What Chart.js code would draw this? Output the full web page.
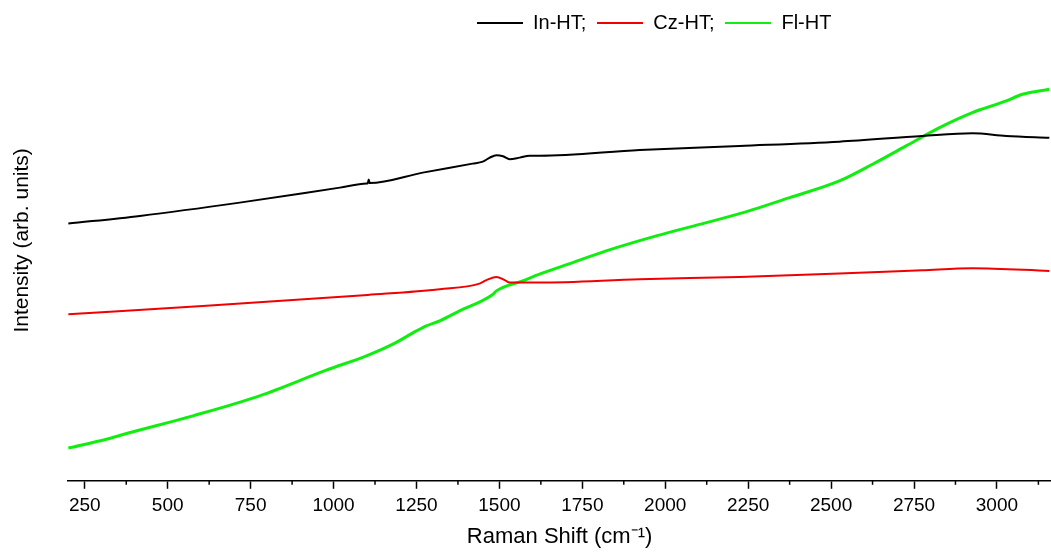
<!DOCTYPE html>
<html>
<head>
<meta charset="utf-8">
<script src="https://cdn.jsdelivr.net/npm/chart.js@4/dist/chart.umd.min.js"></script>
<style>
  body { margin: 0; background: #fff; }
  #wrap { position: relative; width: 1051px; height: 552px; }
  #legend { position: absolute; left: 477px; top: 11px; display: flex; align-items: center;
    font-family: "Liberation Sans", Arial, sans-serif; font-size: 20px; color: #000; }
  #legend .ln { display: inline-block; width: 46px; height: 2px; margin-right: 10px; }
  #legend .tx { margin-right: 11px; }
</style>
</head>
<body>
<div id="wrap">
  <canvas id="myChart"></canvas>
  <div id="legend"></div>
</div>
<script>
// series data (x = Raman shift, y = intensity, arbitrary units)
var in_ht_x = [200, 416, 717, 1019, 1100, 1103, 1106, 1109, 1269, 1419, 1450, 1471, 1491, 1511, 1531, 1561, 1591, 1621, 1923, 2224, 2525, 2775, 2926, 3028, 3158];
var in_ht_y = [257.3, 265, 278.3, 293.3, 297.3, 297.5, 301.5, 297.8, 308.3, 317.3, 319.3, 323.3, 325.7, 324.7, 321.7, 323.3, 325.3, 325.3, 331, 335, 339.3, 345, 347.7, 345, 343.3];

var cz_ht_x = [200, 617, 1103, 1320, 1440, 1461, 1491, 1516, 1531, 1621, 1923, 2224, 2525, 2775, 2926, 3158];
var cz_ht_y = [166.7, 175, 186, 191.7, 197.3, 200.7, 204, 200.7, 198.3, 198.3, 201.7, 204, 207.3, 210.7, 212.7, 210];

var fl_ht_x = [200, 315, 376, 576, 777, 978, 1099, 1179, 1250, 1280, 1320, 1380, 1481, 1491, 1570, 1621, 1721, 1822, 1973, 2124, 2224, 2375, 2525, 2625, 2726, 2827, 2926, 3028, 3077, 3158];
var fl_ht_y = [32.7, 41.5, 47.3, 65, 85, 110.7, 125, 136.7, 150, 155, 160, 170, 186.7, 190, 200, 206.7, 218.3, 230, 245, 258.3, 267.3, 283.3, 300, 316.7, 335, 353.3, 368.3, 380, 386.7, 391.7];

var labels = ['In-HT;', 'Cz-HT;', 'Fl-HT'];
var colors = ['#000000', '#f00000', '#10ee10'];

function pts(xs, ys) {
  return xs.map(function(x, i) { return {x: x, y: ys[i]}; });
}

var dataset = [
  {label: labels[0], data: pts(in_ht_x, in_ht_y), borderColor: colors[0], borderWidth: 2},
  {label: labels[1], data: pts(cz_ht_x, cz_ht_y), borderColor: colors[1], borderWidth: 2},
  {label: labels[2], data: pts(fl_ht_x, fl_ht_y), borderColor: colors[2], borderWidth: 3}
];

// legend as html
var lg = document.getElementById('legend');
labels.forEach(function(l, i) {
  lg.innerHTML += '<span class="ln" style="background:' + colors[i] + '"></span><span class="tx">' + l + '</span>';
});

// short minor ticks
var minorTicks = {
  id: 'minorTicks',
  afterDraw: function(chart) {
    var sc = chart.scales.x, c = chart.ctx, y0 = sc.top;
    c.save();
    c.strokeStyle = '#000';
    c.lineWidth = 1.5;
    sc.ticks.forEach(function(t) {
      if (t.value % 250 !== 0) {
        var px = sc.getPixelForValue(t.value);
        c.beginPath(); c.moveTo(px, y0); c.lineTo(px, y0 + 4); c.stroke();
      }
    });
    c.restore();
  }
};

var font = '"Liberation Sans", Arial, sans-serif';
var ctx = document.getElementById('myChart').getContext('2d');
var myChart = new Chart(ctx, {
  type: 'line',
  data: { datasets: dataset },
  options: {
    responsive: true,
    maintainAspectRatio: false,
    animation: false,
    layout: { padding: { left: 6, right: 0, top: 0, bottom: 0 } },
    elements: { point: { radius: 0 }, line: { tension: 0, cubicInterpolationMode: 'monotone' } },
    plugins: { legend: { display: false }, tooltip: { enabled: false } },
    scales: {
      x: {
        type: 'linear',
        min: 200,
        max: 3163,
        afterBuildTicks: function(axis) {
          var t = [];
          for (var v = 250; v <= 3125; v += 125) t.push({value: v});
          axis.ticks = t;
        },
        ticks: {
          autoSkip: false, maxRotation: 0, padding: 6, color: '#000',
          font: { family: font, size: 19 },
          callback: function(v) { return v % 250 === 0 ? v : ''; }
        },
        grid: {
          drawOnChartArea: false, tickLength: 8, tickWidth: 1.5,
          tickColor: function(c) { return c.tick && c.tick.value % 250 === 0 ? '#000' : 'rgba(0,0,0,0)'; }
        },
        border: { display: true, color: '#000', width: 1.5 },
        title: {
          display: true, text: 'Raman Shift (cm\u207B\u00B9)', color: '#000',
          font: { family: font, size: 22 }, padding: { top: 0, bottom: 2 }
        }
      },
      y: {
        min: 0,
        max: 481,
        ticks: { display: false },
        grid: { display: false },
        border: { display: false },
        title: {
          display: true, text: 'Intensity (arb. units)', color: '#000',
          font: { family: font, size: 21 }, padding: { top: 4, bottom: 25 }
        }
      }
    }
  },
  plugins: [minorTicks]
});
</script>
</body>
</html>
